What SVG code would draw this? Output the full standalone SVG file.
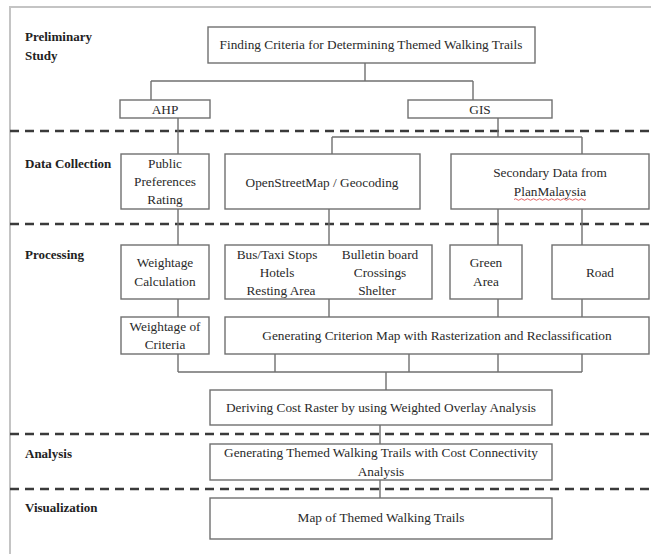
<svg xmlns="http://www.w3.org/2000/svg" width="651" height="554" viewBox="0 0 651 554">
<style>
.bg{fill:#fff}
.frame{fill:none;stroke:#c4c4c4;stroke-width:2}
.box rect{fill:#fff;stroke:#707070;stroke-width:1.4}
.t{font-family:"Liberation Serif","Times New Roman",serif;font-size:13.3px;fill:#2a2a2a;text-anchor:middle}
.lab{font-family:"Liberation Serif","Times New Roman",serif;font-size:13px;font-weight:bold;fill:#222}
.con path{fill:none;stroke:#707070;stroke-width:1.4}
.dash{fill:none;stroke:#3a3a3a;stroke-width:2.4;stroke-dasharray:9 6}
</style>
<rect class="bg" width="651" height="554"/>
<path class="frame" d="M10,556 V7 H653"/>
<g id="lanes">
<path class="dash" d="M10,131 H651"/>
<path class="dash" d="M10,224 H651"/>
<path class="dash" d="M10,434 H651"/>
<path class="dash" d="M10,489 H651"/>
<text class="lab" x="25" y="41">Preliminary</text>
<text class="lab" x="25" y="60">Study</text>
<text class="lab" x="25" y="168">Data Collection</text>
<text class="lab" x="25" y="259">Processing</text>
<text class="lab" x="25" y="458">Analysis</text>
<text class="lab" x="25" y="512">Visualization</text>
</g>
<g class="con" id="connectors">
<path d="M365,63 V81 M151,81 H473 M151,81 V100 M473,81 V100"/>
<path d="M178,118 V154 M498,118 V137 M332,137 H582 M332,137 V154 M582,137 V154"/>
<path d="M178,209 V245 M329,209 V245 M498,209 V245 M582,209 V245"/>
<path d="M178,299 V317 M329,299 V317 M498,299 V317 M582,299 V317"/>
<path d="M178,354 V372 M275,354 V372 M409,354 V372 M498,354 V372 M582,354 V372 M178,372 H582 M386,372 V390"/>
<path d="M380,425 V444 M380,480 V498"/>
</g>
<g class="box" id="n-finding"><rect x="208" y="27" width="327" height="36"/><text class="t" x="371" y="49">Finding Criteria for Determining Themed Walking Trails</text></g>
<g class="box" id="n-ahp"><rect x="120" y="100" width="90" height="18"/><text class="t" x="165" y="113.5">AHP</text></g>
<g class="box" id="n-gis"><rect x="408" y="100" width="144" height="18"/><text class="t" x="480" y="113.5">GIS</text></g>
<g class="box" id="n-public"><rect x="121" y="154" width="88" height="55"/><text class="t" x="165" y="168">Public</text><text class="t" x="165" y="186">Preferences</text><text class="t" x="165" y="204">Rating</text></g>
<g class="box" id="n-osm"><rect x="225" y="154" width="195" height="55"/><text class="t" x="322" y="187">OpenStreetMap / Geocoding</text></g>
<g class="box" id="n-secondary"><rect x="451" y="154" width="198" height="55"/><text class="t" x="550" y="177">Secondary Data from</text><text class="t" x="550" y="196">PlanMalaysia</text><path d="M514,199.5 q1.5,-1.5 3,0 t3,0 t3,0 t3,0 t3,0 t3,0 t3,0 t3,0 t3,0 t3,0 t3,0 t3,0 t3,0 t3,0 t3,0 t3,0 t3,0 t3,0 t3,0 t3,0 t3,0 t3,0 t3,0 t3,0" fill="none" stroke="#e05050" stroke-width="0.9"/></g>
<g class="box" id="n-wcalc"><rect x="121" y="245" width="88" height="54"/><text class="t" x="165" y="267">Weightage</text><text class="t" x="165" y="286">Calculation</text></g>
<g class="box" id="n-bus"><rect x="225" y="245" width="207" height="54"/><text class="t" x="277" y="259">Bus/Taxi Stops</text><text class="t" x="277" y="277">Hotels</text><text class="t" x="281" y="295">Resting Area</text><text class="t" x="380" y="259">Bulletin board</text><text class="t" x="380" y="277">Crossings</text><text class="t" x="377" y="295">Shelter</text></g>
<g class="box" id="n-green"><rect x="450" y="245" width="72" height="54"/><text class="t" x="486" y="267">Green</text><text class="t" x="486" y="286">Area</text></g>
<g class="box" id="n-road"><rect x="552" y="245" width="97" height="54"/><text class="t" x="600" y="277">Road</text></g>
<g class="box" id="n-wcrit"><rect x="121" y="317" width="88" height="37"/><text class="t" x="165" y="331">Weightage of</text><text class="t" x="165" y="349">Criteria</text></g>
<g class="box" id="n-criterion"><rect x="225" y="317" width="424" height="37"/><text class="t" x="437" y="340">Generating Criterion Map with Rasterization and Reclassification</text></g>
<g class="box" id="n-cost"><rect x="210" y="390" width="342" height="35"/><text class="t" x="381" y="412">Deriving Cost Raster by using Weighted Overlay Analysis</text></g>
<g class="box" id="n-trails"><rect x="210" y="444" width="342" height="36"/><text class="t" x="381" y="457">Generating Themed Walking Trails with Cost Connectivity</text><text class="t" x="381" y="476">Analysis</text></g>
<g class="box" id="n-map"><rect x="210" y="498" width="342" height="41"/><text class="t" x="381" y="522">Map of Themed Walking Trails</text></g>
</svg>
